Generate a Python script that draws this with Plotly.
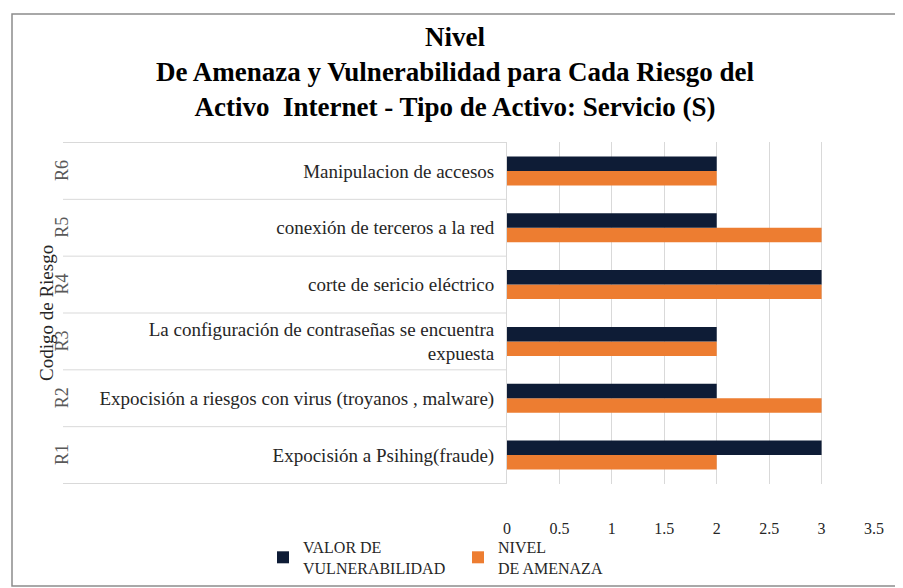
import plotly.graph_objects as go

codes = ["R1", "R2", "R3", "R4", "R5", "R6"]
descriptions = [
    "Expocisión a Psihing(fraude)",
    "Expocisión a riesgos con virus (troyanos , malware)",
    "La configuración de contraseñas se encuentra<br>expuesta",
    "corte de sericio eléctrico",
    "conexión de terceros a la red",
    "Manipulacion de accesos",
]
valor_vulnerabilidad = [3, 2, 2, 3, 2, 2]
nivel_amenaza = [2, 3, 2, 3, 3, 2]

FONT = "Liberation Serif"
DARK = "#0e1c36"
ORANGE = "#ed7d31"
GRID = "#d9d9d9"

OFF = 8  # page body margin
W, H = 903 - OFF, 588 - OFF
# plot area in screenshot pixels
PX0, PX1, PY0, PY1 = 507, 874, 142, 484
L, R, T, B = PX0 - OFF, W - (PX1 - OFF), PY0 - OFF, H - (PY1 - OFF)
pw = PX1 - PX0
ph = PY1 - PY0

def xp(px):
    return (px - PX0) / pw

def yp(py):
    return (PY1 - py) / ph

fig = go.Figure()
fig.add_trace(go.Bar(
    y=codes, x=nivel_amenaza, orientation="h", name="NIVEL<br>DE AMENAZA",
    marker=dict(color=ORANGE, line=dict(width=0)),
))
fig.add_trace(go.Bar(
    y=codes, x=valor_vulnerabilidad, orientation="h", name="VALOR DE<br>VULNERABILIDAD",
    marker=dict(color=DARK, line=dict(width=0)),
))

shapes = []
for i in range(len(codes) + 1):
    shapes.append(dict(type="line", xref="paper", yref="y", x0=xp(63), x1=0,
                       y0=i - 0.5, y1=i - 0.5, line=dict(color=GRID, width=1)))
shapes.append(dict(type="rect", xref="paper", yref="paper",
                   x0=xp(12), x1=xp(899), y0=yp(586), y1=yp(14),
                   line=dict(color="#8c8c8c", width=1.5), fillcolor="rgba(0,0,0,0)"))

annotations = []
for i, c in enumerate(codes):
    annotations.append(dict(text=c, xref="paper", yref="y", x=xp(62), y=i,
                            xanchor="center", yanchor="middle",
                            textangle=-90, showarrow=False,
                            font=dict(family=FONT, size=18, color="#595959")))
annotations.append(dict(text="Codigo de Riesgo", xref="paper", yref="paper",
                        x=xp(46), y=yp(313), xanchor="center", yanchor="middle",
                        textangle=-90, showarrow=False,
                        font=dict(family=FONT, size=19, color="#262626")))

fig.update_layout(
    width=W, height=H,
    margin=dict(l=L, r=R, t=T, b=B, autoexpand=False),
    paper_bgcolor="white", plot_bgcolor="white",
    barmode="group", bargap=0.49, bargroupgap=0,
    title=dict(
        text="<b>Nivel<br>De Amenaza y Vulnerabilidad para Cada Riesgo del<br>Activo  Internet - Tipo de Activo: Servicio (S)</b>",
        x=(455 - OFF) / W, xref="container", xanchor="center",
        y=1 - (46 - OFF) / H, yanchor="middle", yref="container",
        font=dict(family=FONT, size=27, color="#000000"),
    ),
    font=dict(family=FONT, color="#262626"),
    xaxis=dict(range=[0, 3.5], dtick=0.5, showgrid=True, gridcolor=GRID, gridwidth=1,
               zeroline=False, showline=False, ticks="", ticklabelstandoff=33,
               tickfont=dict(family=FONT, size=16, color="#262626")),
    yaxis=dict(type="category", tickvals=codes, ticktext=descriptions,
               showgrid=False, zeroline=False, showline=True, linecolor=GRID, linewidth=1,
               ticks="", ticklabelstandoff=8,
               tickfont=dict(family=FONT, size=19, color="#262626")),
    legend=dict(orientation="h", traceorder="reversed",
                x=xp(263), xanchor="left",
                y=yp(530), yanchor="top",
                entrywidth=150, entrywidthmode="pixels",
                bgcolor="rgba(0,0,0,0)",
                font=dict(family=FONT, size=16, color="#262626")),
    shapes=shapes,
    annotations=annotations,
)

fig.write_html("out.html")
